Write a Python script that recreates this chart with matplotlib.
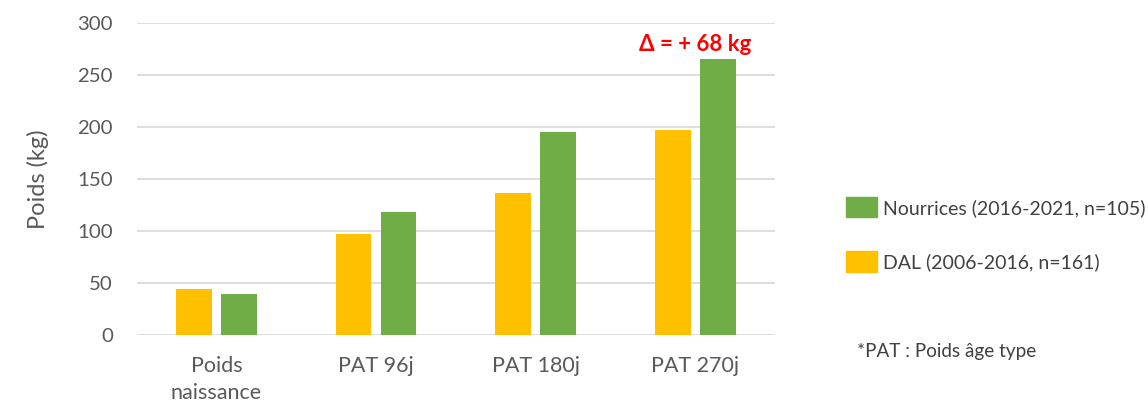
import numpy as np
import matplotlib.pyplot as plt
from matplotlib.patches import Patch

categories = ["Poids\nnaissance", "PAT 96j", "PAT 180j", "PAT 270j"]
dal = [44, 97, 137, 197]
nourrices = [39, 118, 195, 265]
series_labels = ["Nourrices (2016-2021, n=105)", "DAL (2006-2016, n=161)"]
yticks = [0, 50, 100, 150, 200, 250, 300]
delta_text = "\u0394 = + 68 kg"
note = "*PAT : Poids \u00e2ge type"

plt.rcParams['font.family'] = ['Lato', 'DejaVu Sans']
gris = '#595959'
fonce = '#404040'
orange = '#FFC000'
vert = '#70AD47'

fig = plt.figure(figsize=(11.48, 4.05), dpi=100)
ax = fig.add_axes([0.119, 0.173, 0.556, 0.770])

x = np.arange(len(categories))
w = 0.225
ax.bar(x - 0.141, dal, w, color=orange, zorder=3)
ax.bar(x + 0.141, nourrices, w, color=vert, zorder=3)

ax.set_xlim(-0.5, len(categories) - 0.5)
ax.set_ylim(0, 300)
ax.set_yticks(yticks)
ax.yaxis.grid(True, color='#D9D9D9', linewidth=1.2, zorder=0)
for s in ax.spines.values():
    s.set_visible(False)
ax.tick_params(axis='both', length=0, colors=gris)
ax.tick_params(axis='y', pad=17, labelsize=14.7)
ax.tick_params(axis='x', pad=15, labelsize=15.5)
ax.set_xticks(x)
ax.set_xticklabels(categories, linespacing=1.45)
ax.set_ylabel("Poids (kg)", fontsize=17, color=gris)
ax.yaxis.set_label_coords(-0.138, 0.5)

# ecart entre les deux series au PAT 270j
ax.text(x[-1], nourrices[-1] + 14, delta_text, ha='center', va='center',
        color='#FF0000', fontsize=16, fontweight='bold')

handles = [Patch(color=vert), Patch(color=orange)]
fig.legend(handles, series_labels, loc='upper left',
           bbox_to_anchor=(846 / 1148, 1 - 197 / 405),
           frameon=False, fontsize=14, labelcolor=fonce, borderpad=0,
           borderaxespad=0, handlelength=1.6, handleheight=1.24,
           handletextpad=0.3, labelspacing=1.75)
fig.text(857 / 1148, 1 - 352 / 405, note, fontsize=13.6, color=fonce, va='center')

fig.savefig("out.png", dpi=100)
